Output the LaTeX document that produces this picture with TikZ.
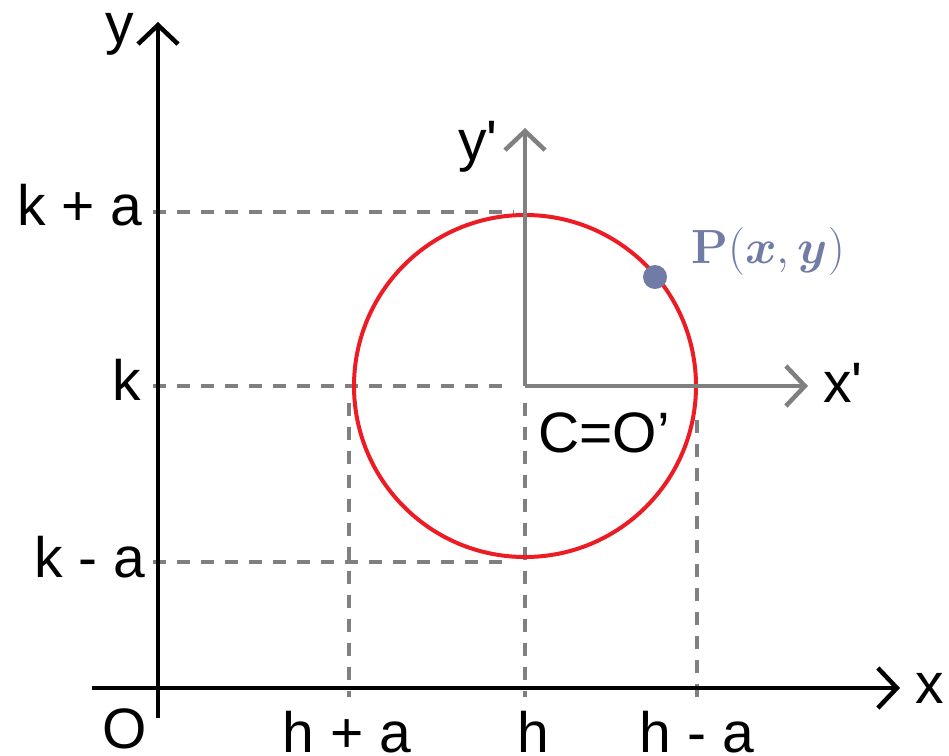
\RequirePackage{fix-cm}
\documentclass[tikz,border=0pt]{standalone}
\usepackage{amsmath,amssymb}
\usepackage[no-math]{fontspec}
\setmainfont{Liberation Sans}[Ligatures=TeXOff]
\usepackage{tikz}
\usetikzlibrary{arrows.meta,positioning}
\definecolor{guide}{RGB}{128,128,128}
\definecolor{ring}{RGB}{237,28,36}
\definecolor{pointc}{RGB}{112,124,166}

\begin{document}
\begin{tikzpicture}[x=1pt, y=-1pt, font=\fontsize{57}{62}\selectfont,
      axis/.style={line width=4.5pt, -{Straight Barb[length=19pt, width=40pt]}},
      subaxis/.style={axis, guide},
      guideline/.style={guide, line width=4pt, dash pattern=on 13pt off 11pt},
      lbl/.style={inner sep=0pt, anchor=base}]
    \useasboundingbox (0,0) rectangle (949,755);
    \coordinate (O) at (158,688);
    \coordinate (xstart) at (92,688);
    \coordinate (xend) at (900,688);
    \coordinate (ystart) at (158,718);
    \coordinate (yend) at (158,22);
    \coordinate (C) at (525,386);
    \coordinate (xpend) at (808,386);
    \coordinate (ypend) at (525,128);
    \coordinate (ka) at (153,212);
    \coordinate (kaend) at (514,212);
    \coordinate (k) at (153,386);
    \coordinate (kend) at (510,386);
    \coordinate (kma) at (153,562);
    \coordinate (kmaend) at (510,562);
    \coordinate (hatop) at (349,403);
    \coordinate (ha) at (349,697);
    \coordinate (htop) at (525,403);
    \coordinate (h) at (525,697);
    \coordinate (hmatop) at (697,420);
    \coordinate (hma) at (697,697);
    \draw[guideline] (ka) -- (kaend);
    \draw[guideline] (k) -- (kend);
    \draw[guideline] (kma) -- (kmaend);
    \draw[guideline] (hatop) -- (ha);
    \draw[guideline] (htop) -- (h);
    \draw[guideline] (hmatop) -- (hma);
    \draw[axis] (xstart) -- (xend);
    \draw[axis] (ystart) -- (yend);
    \draw[ring, line width=4pt] (C) circle[radius=171];
    \draw[subaxis] (C) -- (xpend);
    \draw[subaxis] (C) -- (ypend);
    \node[circle, fill=pointc, inner sep=0pt, minimum size=24pt] (P) at (655,277) {};
    \node[lbl, text=pointc, font=\fontsize{48}{52}\selectfont] (Plabel) at (768,263) {$\mathbf{P}(\boldsymbol{x},\boldsymbol{y})$};
    \node[lbl] (ylab) at (120,43) {y};
    \node[lbl] (xlab) at (930,703) {x};
    \node[lbl] (Olab) at (125,748) {O};
    \node[lbl] (kalab) at (80,225) {k + a};
    \node[lbl] (klab) at (127,400) {k};
    \node[lbl] (kmalab) at (90,577) {k - a};
    \node[lbl] (halab) at (347,752) {h + a};
    \node[lbl] (hlab) at (533,752) {h};
    \node[lbl] (hmalab) at (697,752) {h - a};
    \node[lbl] (yplab) at (478,160) {y'};
    \node[lbl] (xplab) at (843,402) {x'};
    \node[lbl] (Clab) at (604,452) {C=O’};
  \end{tikzpicture}
\end{document}
